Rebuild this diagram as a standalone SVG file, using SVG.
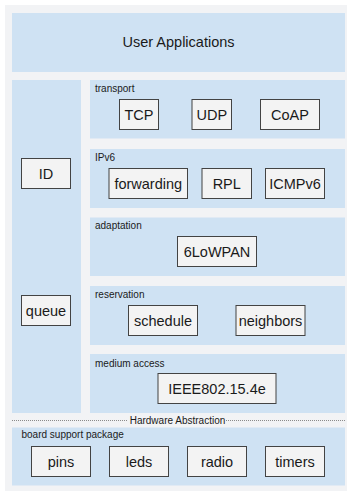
<svg xmlns="http://www.w3.org/2000/svg" width="347" height="491" viewBox="0 0 347 491">
<style>
.bg{fill:#f2f3f5}
.layer{fill:#cfe2f3}
.box{fill:#f3f3f3;stroke:#434343;stroke-width:1}
.t{font-family:"Liberation Sans",Arial,sans-serif;font-size:14.5px;fill:#1a1a1a;text-anchor:middle}
.lbl{font-family:"Liberation Sans",Arial,sans-serif;font-size:10px;fill:#1a1a1a}
.dot{stroke:#8a8a8a;stroke-width:1;stroke-dasharray:1 1;fill:none}
</style>
<rect class="bg" x="5" y="5" width="342" height="486"/>
<g id="user-applications">
<rect class="layer" x="12" y="13" width="333" height="59"/>
<text class="t" x="178.5" y="47">User Applications</text>
</g>
<g id="cross-layer">
<rect class="layer" x="12" y="80" width="69" height="333"/>
</g>
<g id="transport">
<rect class="layer" x="90" y="80" width="255" height="58.5"/>
<text class="lbl" x="95" y="92">transport</text>
</g>
<g id="ipv6">
<rect class="layer" x="90" y="149" width="255" height="59"/>
<text class="lbl" x="95" y="160.5">IPv6</text>
</g>
<g id="adaptation">
<rect class="layer" x="90" y="217.5" width="255" height="58.5"/>
<text class="lbl" x="95" y="229">adaptation</text>
</g>
<g id="reservation">
<rect class="layer" x="90" y="286" width="255" height="59"/>
<text class="lbl" x="95" y="297.5">reservation</text>
</g>
<g id="medium-access">
<rect class="layer" x="90" y="354" width="255" height="59"/>
<text class="lbl" x="95" y="366.5">medium access</text>
</g>
<g id="hardware-abstraction">
<line class="dot" x1="12" y1="420.5" x2="128" y2="420.5"/>
<line class="dot" x1="226" y1="420.5" x2="345" y2="420.5"/>
<text class="lbl" x="177.5" y="424" text-anchor="middle">Hardware Abstraction</text>
</g>
<g id="board-support-package">
<rect class="layer" x="12" y="427.5" width="333" height="58"/>
<text class="lbl" x="21.5" y="437.5">board support package</text>
</g>
<g id="TCP"><rect class="box" x="119.5" y="99.5" width="39" height="30"/><text class="t" x="139" y="120">TCP</text></g>
<g id="UDP"><rect class="box" x="192" y="99.5" width="39.5" height="30"/><text class="t" x="211.75" y="120">UDP</text></g>
<g id="CoAP"><rect class="box" x="260.5" y="99.5" width="59" height="30"/><text class="t" x="290" y="120">CoAP</text></g>
<g id="forwarding"><rect class="box" x="109" y="168.5" width="78.5" height="30"/><text class="t" x="148.25" y="189">forwarding</text></g>
<g id="RPL"><rect class="box" x="202" y="168.5" width="49.5" height="30"/><text class="t" x="226.75" y="189">RPL</text></g>
<g id="ICMPv6"><rect class="box" x="265.5" y="168.5" width="59" height="30"/><text class="t" x="295" y="189">ICMPv6</text></g>
<g id="ID"><rect class="box" x="21.5" y="158.5" width="49" height="30"/><text class="t" x="46" y="179">ID</text></g>
<g id="queue"><rect class="box" x="21.5" y="295.5" width="49" height="30"/><text class="t" x="46" y="316">queue</text></g>
<g id="6LoWPAN"><rect class="box" x="177.5" y="236.5" width="79" height="30"/><text class="t" x="217" y="257">6LoWPAN</text></g>
<g id="schedule"><rect class="box" x="128.5" y="305.5" width="69" height="30"/><text class="t" x="163" y="326">schedule</text></g>
<g id="neighbors"><rect class="box" x="236" y="305.5" width="69" height="30"/><text class="t" x="270.5" y="326">neighbors</text></g>
<g id="IEEE802.15.4e"><rect class="box" x="158" y="373.5" width="118" height="30"/><text class="t" x="217" y="394">IEEE802.15.4e</text></g>
<g id="pins"><rect class="box" x="31.5" y="446.5" width="59" height="30"/><text class="t" x="61" y="467">pins</text></g>
<g id="leds"><rect class="box" x="109.5" y="446.5" width="59" height="30"/><text class="t" x="139" y="467">leds</text></g>
<g id="radio"><rect class="box" x="187.5" y="446.5" width="59" height="30"/><text class="t" x="217" y="467">radio</text></g>
<g id="timers"><rect class="box" x="265.5" y="446.5" width="59" height="30"/><text class="t" x="295" y="467">timers</text></g>
<g id="connectors"></g>
</svg>
